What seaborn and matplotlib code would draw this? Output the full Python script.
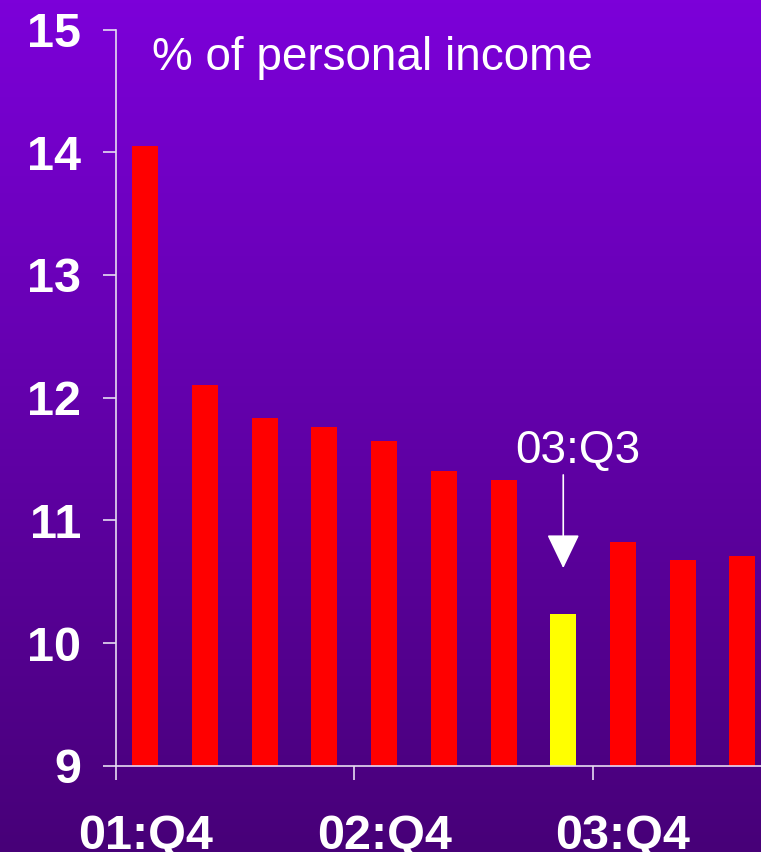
import numpy as np
import pandas as pd
import matplotlib
matplotlib.use("Agg")
import matplotlib.pyplot as plt
from matplotlib.colors import LinearSegmentedColormap
import seaborn as sns

# ---- data ----
quarters = ['01:Q4', '02:Q1', '02:Q2', '02:Q3', '02:Q4', '03:Q1',
            '03:Q2', '03:Q3', '03:Q4', '04:Q1', '04:Q2']
values = [14.05, 12.10, 11.83, 11.76, 11.65, 11.40, 11.33, 10.24, 10.82, 10.68, 10.71]
bar_colors = ['#FF0000'] * 7 + ['#FFFF00'] + ['#FF0000'] * 3
yticks = [9, 10, 11, 12, 13, 14, 15]
xlabel_quarters = ['01:Q4', '02:Q4', '03:Q4']
highlight = '03:Q3'
title_text = '% of personal income'

sns.set_theme(style='white')
plt.rcParams['font.family'] = ['Liberation Sans', 'DejaVu Sans']

W, H = 761, 852
fig = plt.figure(figsize=(W / 100, H / 100), dpi=100)

# gradient background
bg = fig.add_axes([0, 0, 1, 1], zorder=-10)
cmap = LinearSegmentedColormap.from_list('bg', ['#7C00D9', '#470078'])
grad = np.linspace(0, 1, 256).reshape(-1, 1)
bg.imshow(grad, aspect='auto', cmap=cmap, extent=[0, 1, 0, 1])
bg.set_axis_off()

# main axes
left = 115.5 / W
bottom = (H - 765.7) / H
top = (H - 29.5) / H
ax = fig.add_axes([left, bottom, 1 - left, top - bottom])
ax.patch.set_alpha(0)

df = pd.DataFrame({'quarter': quarters, 'value': values})
sns.barplot(data=df, x='quarter', y='value', hue='quarter',
            palette=dict(zip(quarters, bar_colors)), legend=False,
            width=0.435, saturation=1, ax=ax, zorder=2, linewidth=0)

unit_px = 59.7
ax.set_xlim(-0.5, -0.5 + (W - 115.5) / unit_px)
ax.set_ylim(9, 15)

line_col = '#E6DCF2'
for s in ['top', 'right']:
    ax.spines[s].set_visible(False)
for s in ['left', 'bottom']:
    ax.spines[s].set_color(line_col)
    ax.spines[s].set_linewidth(1.2)
    ax.spines[s].set_zorder(3)

ax.set_xlabel('')
ax.set_ylabel('')

# y ticks
ax.set_yticks(yticks)
ax.set_yticklabels([str(t) for t in yticks])
ax.tick_params(axis='y', which='major', direction='out', length=9.5, width=1.2,
               color=line_col, pad=15, labelsize=35, labelcolor='white', left=True)
for lab in ax.get_yticklabels():
    lab.set_fontweight('bold')

# x ticks: marks at group boundaries, labels at bar centres
pos = [quarters.index(q) for q in xlabel_quarters]
ax.set_xticks([p - 0.5 for p in pos])
ax.set_xticklabels([''] * len(pos))
ax.tick_params(axis='x', which='major', direction='out', length=10, width=1.2,
               color=line_col, bottom=True)
ax.set_xticks(pos, minor=True)
ax.set_xticklabels(xlabel_quarters, minor=True)
ax.tick_params(axis='x', which='minor', length=0, pad=35, labelsize=35,
               labelcolor='white', bottom=True)
for lab in ax.get_xticklabels(minor=True):
    lab.set_fontweight('bold')

# annotation arrow + label
hi = quarters.index(highlight)
ax.annotate('', xy=(hi, 10.61), xytext=(hi, 11.37),
            arrowprops=dict(arrowstyle='-|>,head_length=2.16,head_width=1.04',
                            mutation_scale=10, color='white', lw=1.2,
                            shrinkA=0, shrinkB=0), zorder=5)
ax.text(hi + 0.25, 11.47, highlight, ha='center', va='baseline',
        fontsize=33, color='white', zorder=5)

fig.text(152 / W, 1 - 70 / H, title_text, ha='left', va='baseline',
         fontsize=33, color='white')

fig.savefig('out.png', dpi=100)
